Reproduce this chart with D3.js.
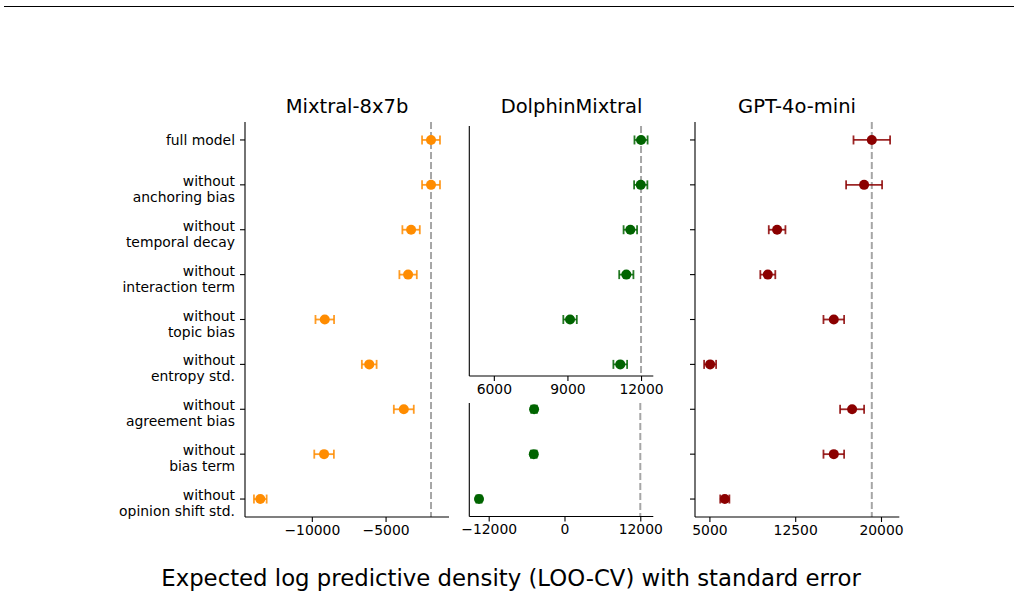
<!doctype html>
<html>
<head>
<meta charset="utf-8">
<script src="https://cdnjs.cloudflare.com/ajax/libs/d3/7.8.5/d3.min.js"></script>
<style>
body { margin: 0; background: #fff; }
svg { display: block; font-family: "DejaVu Sans", sans-serif; }
</style>
</head>
<body>
<script>
// model variants (rows, top to bottom)
var categories = [
  ["full model"],
  ["without", "anchoring bias"],
  ["without", "temporal decay"],
  ["without", "interaction term"],
  ["without", "topic bias"],
  ["without", "entropy std."],
  ["without", "agreement bias"],
  ["without", "bias term"],
  ["without", "opinion shift std."]
];

// elpd_loo and standard error per model
var mixtralElpd = [-1919, -1919, -3270, -3473, -9122, -6108, -3764, -9169, -13493];
var mixtralSe   = [608, 608, 590, 590, 630, 500, 676, 665, 430];
var dolphinElpd = [12000, 11988, 11564, 11400, 9107, 11153, -4813, -4860, -13536];
var dolphinSe   = [267, 270, 275, 290, 275, 280, 450, 450, 400];
var gptElpd     = [19196, 18523, 10918, 10105, 15874, 5061, 17474, 15874, 6346];
var gptSe       = [1600, 1573, 728, 655, 903, 524, 1049, 903, 400];

// tick labels and axis limits
var mixtralTicks = [-10000, -5000];
var dolphinTopTicks = [6000, 9000, 12000];
var dolphinBottomTicks = [-12000, 0, 12000];
var gptTicks = [5000, 12500, 20000];
var mixtralLim = [-14530, -700];
var dolphinTopLim = [5000, 12500];
var dolphinBottomLim = [-15070, 14060];
var gptLim = [3740, 21600];

var W = 1020, H = 597;
var svg = d3.select("body").append("svg").attr("width", W).attr("height", H);

svg.append("line")
    .attr("x1", 4).attr("x2", 1014).attr("y1", 6.5).attr("y2", 6.5)
    .attr("stroke", "#000").attr("stroke-width", 1.2);

var y = d3.scaleLinear().domain([-0.4, 8.4]).range([122, 517]);

var fmt = function(d) { return d3.format("d")(d).replace("-", "\u2212"); };

function panel(opts) {
  var x = d3.scaleLinear().domain(opts.lim).range([opts.x0, opts.x1]);
  var g = svg.append("g");
  var rows = d3.range(opts.from, opts.to);

  // reference line at full model value
  g.append("line")
      .attr("x1", x(opts.ref)).attr("x2", x(opts.ref))
      .attr("y1", opts.y0).attr("y2", opts.y1)
      .attr("stroke", "#a6a6a6").attr("stroke-width", 2)
      .attr("stroke-dasharray", "7,3");

  // x axis
  var xa = g.append("g")
      .attr("transform", "translate(0," + opts.y1 + ")")
      .call(d3.axisBottom(x).tickValues(opts.ticks).tickFormat(fmt).tickSize(5).tickPadding(3));
  xa.select(".domain").attr("stroke", "#000").attr("stroke-width", 1.1)
      .attr("d", "M" + opts.x0 + ",0H" + opts.x1);
  xa.selectAll(".tick line").attr("stroke", "#000").attr("stroke-width", 1.1);
  xa.selectAll(".tick text").attr("font-size", "13.9px").attr("fill", "#000")
      .attr("font-family", "DejaVu Sans");

  // left spine
  g.append("line")
      .attr("x1", opts.x0).attr("x2", opts.x0)
      .attr("y1", opts.y0).attr("y2", opts.y1)
      .attr("stroke", "#000").attr("stroke-width", 1.1);

  if (opts.yticks) {
    g.selectAll(".ytick").data(rows).enter().append("line")
        .attr("x1", opts.x0 - 5).attr("x2", opts.x0)
        .attr("y1", function(i) { return y(i); })
        .attr("y2", function(i) { return y(i); })
        .attr("stroke", "#000").attr("stroke-width", 1.1);
  }
  if (opts.ylabels) {
    rows.forEach(function(i) {
      var lines = categories[i];
      var t = g.append("text")
          .attr("text-anchor", "end")
          .attr("font-size", "13.9px")
          .attr("fill", "#000");
      if (lines.length === 1) {
        t.append("tspan").attr("x", opts.x0 - 10).attr("y", y(i) + 5).text(lines[0]);
      } else {
        t.append("tspan").attr("x", opts.x0 - 10).attr("y", y(i) + 1).text(lines[0]);
        t.append("tspan").attr("x", opts.x0 - 10).attr("y", y(i) + 17).text(lines[1]);
      }
    });
  }

  // error bars
  var eb = g.selectAll(".eb").data(rows).enter().append("g")
      .attr("stroke", opts.color).attr("stroke-width", 1.8).attr("stroke-opacity", 0.85);
  eb.append("line")
      .attr("x1", function(i) { return x(opts.vals[i] - opts.se[i]); })
      .attr("x2", function(i) { return x(opts.vals[i] + opts.se[i]); })
      .attr("y1", function(i) { return y(i); })
      .attr("y2", function(i) { return y(i); });
  [-1, 1].forEach(function(s) {
    eb.append("line")
        .attr("x1", function(i) { return x(opts.vals[i] + s * opts.se[i]); })
        .attr("x2", function(i) { return x(opts.vals[i] + s * opts.se[i]); })
        .attr("y1", function(i) { return y(i) - 4.5; })
        .attr("y2", function(i) { return y(i) + 4.5; });
  });

  g.selectAll(".pt").data(rows).enter().append("circle")
      .attr("cx", function(i) { return x(opts.vals[i]); })
      .attr("cy", function(i) { return y(i); })
      .attr("r", 5)
      .attr("fill", opts.color);
}

panel({x0: 245, x1: 449, y0: 122, y1: 517, lim: mixtralLim, ticks: mixtralTicks,
       vals: mixtralElpd, se: mixtralSe, from: 0, to: 9, color: "#ff8c00",
       ref: mixtralElpd[0], yticks: true, ylabels: true});
panel({x0: 469.3, x1: 653.3, y0: 126, y1: 376, lim: dolphinTopLim, ticks: dolphinTopTicks,
       vals: dolphinElpd, se: dolphinSe, from: 0, to: 6, color: "#006400",
       ref: dolphinElpd[0]});
panel({x0: 469.3, x1: 653.3, y0: 403, y1: 516.5, lim: dolphinBottomLim, ticks: dolphinBottomTicks,
       vals: dolphinElpd, se: dolphinSe, from: 6, to: 9, color: "#006400",
       ref: dolphinElpd[0]});
panel({x0: 695, x1: 899.3, y0: 122, y1: 517, lim: gptLim, ticks: gptTicks,
       vals: gptElpd, se: gptSe, from: 0, to: 9, color: "#8b0000",
       ref: gptElpd[0], yticks: true});

// titles
[["Mixtral-8x7b", 347], ["DolphinMixtral", 571.5], ["GPT-4o-mini", 797]].forEach(function(t) {
  svg.append("text").attr("x", t[1]).attr("y", 113)
      .attr("text-anchor", "middle").attr("font-size", "19.5px").attr("fill", "#000")
      .text(t[0]);
});

svg.append("text").attr("x", 511).attr("y", 586)
    .attr("text-anchor", "middle").attr("font-size", "22.8px").attr("fill", "#000")
    .text("Expected log predictive density (LOO-CV) with standard error");
</script>
</body>
</html>
